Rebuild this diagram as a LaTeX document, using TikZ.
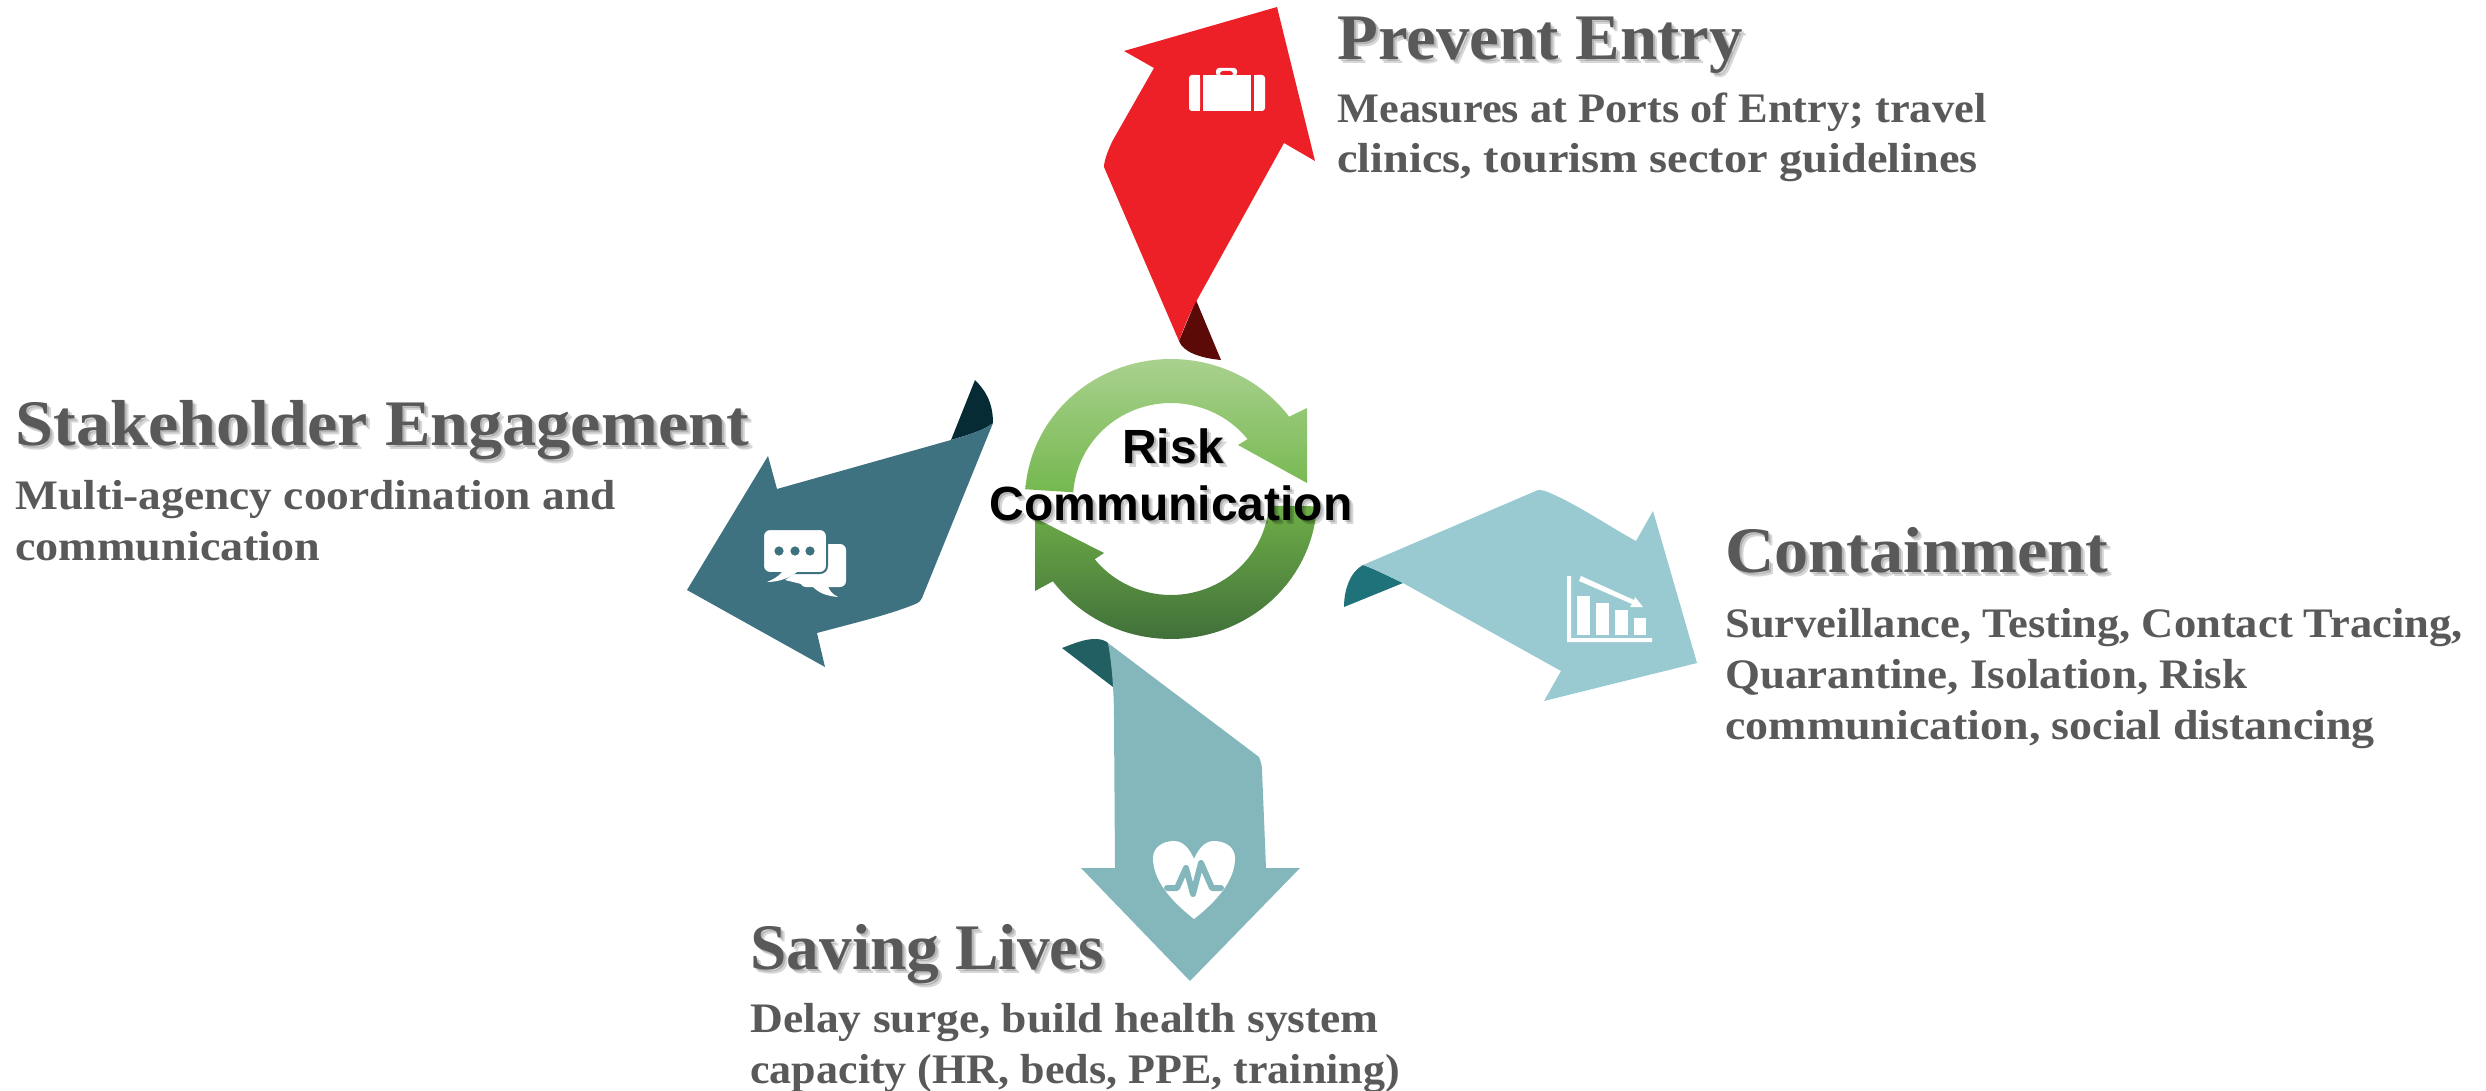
\documentclass[tikz,border=0pt]{standalone}
\usepackage{fontspec}
\setmainfont{Liberation Serif}
\newfontfamily\ttlfont[FakeStretch=1.05]{Liberation Serif}
\newfontfamily\bodyfont[FakeStretch=1.07]{Liberation Serif}
\newfontfamily\riskfont{Liberation Sans}
\definecolor{redA}{HTML}{ED2027}
\definecolor{redB}{HTML}{5C0A08}
\definecolor{tealA}{HTML}{3E7280}
\definecolor{tealB}{HTML}{062B35}
\definecolor{skyA}{HTML}{9ACAD1}
\definecolor{skyB}{HTML}{1F7279}
\definecolor{midA}{HTML}{84B7BC}
\definecolor{midB}{HTML}{215F63}
\definecolor{txt}{HTML}{595959}
\definecolor{grA}{HTML}{A9D18E}
\definecolor{grB}{HTML}{75B84F}
\definecolor{grC}{HTML}{6EAE48}
\definecolor{grD}{HTML}{41703A}
\tikzset{
  ttl/.style={anchor=base west,inner sep=0pt,text=txt,font=\ttlfont\bfseries\fontsize{32.5pt}{36pt}\selectfont},
  bodytxt/.style={anchor=base west,inner sep=0pt,text=txt,align=left,font=\bodyfont\bfseries\fontsize{21pt}{25.4pt}\selectfont},
  risk/.style={anchor=base,inner sep=0pt,text=black,font=\riskfont\bfseries\fontsize{24pt}{28pt}\selectfont},
  shadowlayer/.style={text=black,text opacity=.16},
}
% name, style, x, y, text
\newcommand\shadowed[5]{%
  \node[#2,shadowlayer] (#1s1) at (#3+2,#4+2) {#5};
  \node[#2,shadowlayer] (#1s2) at (#3+4,#4+4) {#5};
  \node[#2] (#1) at (#3,#4) {#5};
}
\newcommand\sx[2]{\scalebox{#1}[1]{#2}}
\begin{document}
\begin{tikzpicture}[x=.5pt,y=-.5pt]
\useasboundingbox (0,0) rectangle (2486,1091);
\fill[white] (0,0) rectangle (2486,1091);

% circular arrows
\path[top color=grA,bottom color=grB]
  plot[domain=176:36,samples=50] ({1171+146*cos(\x)},{499-140*sin(\x)})
  -- (1307,408) -- (1307,483) -- (1238,445) -- (1251,437)
  -- plot[domain=38:176,samples=50] ({1171+98*cos(\x)},{499-96*sin(\x)}) -- cycle;
\path[top color=grC,bottom color=grD]
  plot[domain=-3:-144,samples=50] ({1171+146*cos(\x)},{499-140*sin(\x)})
  -- (1035,591) -- (1035,518) -- (1104,553) -- (1092,561)
  -- plot[domain=-141:-4,samples=50] ({1171+98*cos(\x)},{499-96*sin(\x)}) -- cycle;

% red arrow
\fill[redB] (1196,300) -- (1221,360) .. controls (1200,358) and (1183,352) .. (1179,341) -- cycle;
\fill[redA] (1277,7) -- (1124,51) -- (1154,68) -- (1113,140) .. controls (1109,148) and (1104,160) .. (1104,167)
  -- (1179,341) .. controls (1183,330) and (1190,312) .. (1197,300) -- (1284,143) -- (1315,161) -- cycle;
\begin{scope}[rounded corners=1.5pt]
\fill[white] (1216,76) -- (1216,68) -- (1237,68) -- (1237,76) -- cycle;
\fill[redA] (1220,76) -- (1220,71) -- (1233,71) -- (1233,76) -- cycle;
\fill[white] (1189,75) rectangle (1200,111);
\fill[white] (1254,75) rectangle (1265,111);
\end{scope}
\fill[white] (1194,75) rectangle (1200,111);
\fill[white] (1254,75) rectangle (1260,111);
\fill[white] (1203,75) rectangle (1251,111);

% stakeholder arrow
\fill[tealB] (975,380) .. controls (985,390) and (993,402) .. (993,423) .. controls (985,430) and (968,435) .. (951,440) -- cycle;
\fill[tealA] (687,590) -- (768,456) -- (777,489) -- (951,440) .. controls (968,435) and (985,430) .. (993,423)
  -- (922,598) .. controls (920,603) and (915,604) .. (913,605) .. controls (885,616) and (850,624) .. (817,633)
  -- (825,667) -- cycle;
\fill[white,rounded corners=3pt] (800,544) rectangle (846,587);
\fill[white] (785,580) -- (813,587) .. controls (820,594) and (828,596) .. (838,597) .. controls (832,594) and (829,590) .. (828,586) -- (800,570) -- cycle;
\filldraw[fill=white,rounded corners=3.5pt,draw=tealA,line width=1pt] (763,529) rectangle (827,573);
\fill[white] (782,572) .. controls (778,577) and (772,580) .. (767,582) .. controls (778,582) and (790,578) .. (797,572) -- cycle;
\fill[tealA] (779,551) circle[radius=2.3pt];
\fill[tealA] (795,551) circle[radius=2.3pt];
\fill[tealA] (810,551) circle[radius=2.3pt];

% containment arrow
\fill[skyB] (1363,565) .. controls (1350,572) and (1344,590) .. (1344,607) -- (1403,583) .. controls (1390,577) and (1375,569) .. (1363,565) -- cycle;
\fill[skyA] (1363,565) -- (1538,490) .. controls (1542,490) and (1546,491) .. (1550,493) .. controls (1580,506) and (1610,527) .. (1636,541)
  -- (1653,511) -- (1697,663) -- (1544,701) -- (1561,671) -- (1403,583) .. controls (1390,577) and (1375,569) .. (1363,565) -- cycle;
\fill[white] (1567,576) -- (1571,576) -- (1571,638) -- (1652,638) -- (1652,642) -- (1567,642) -- cycle;
\fill[white] (1577,596) rectangle (1590,635);
\fill[white] (1596,603) rectangle (1609,635);
\fill[white] (1615,610) rectangle (1628,635);
\fill[white] (1634,618) rectangle (1646,635);
\fill[white] (1581,576) -- (1579,581) -- (1632,604) -- (1630,607) -- (1643,607) -- (1635,597) -- (1634,600) -- cycle;

% saving lives arrow
\fill[midB] (1062,648) .. controls (1075,643) and (1085,639) .. (1095,639) .. controls (1100,639) and (1105,640) .. (1108,643)
  .. controls (1112,655) and (1113,675) .. (1113,687) -- cycle;
\fill[midA] (1108,643) -- (1259,757) .. controls (1261,762) and (1262,766) .. (1262,770) -- (1266,868) -- (1300,868) -- (1190,981) -- (1081,868) -- (1115,868)
  -- (1114,720) .. controls (1114,700) and (1113,670) .. (1108,643) -- cycle;
\fill[white] (1194,919) .. controls (1170,900) and (1153,880) .. (1153,858) .. controls (1153,848) and (1162,841) .. (1174,841)
  .. controls (1184,841) and (1190,850) .. (1194,859) .. controls (1198,850) and (1204,841) .. (1214,841)
  .. controls (1226,841) and (1235,848) .. (1235,858) .. controls (1235,880) and (1218,900) .. (1194,919) -- cycle;
\draw[midA,line width=3pt,line cap=round,line join=round] (1167,888) -- (1177,888) -- (1186,868) -- (1193,894) -- (1201,863) -- (1212,888) -- (1221,888);

% labels
\shadowed{riskA}{risk}{1173}{463}{Risk}
\shadowed{riskB}{risk}{1171}{520}{Communication}

\shadowed{t1}{ttl}{1337}{60}{\sx{.98}{Prevent Entry}}
\node[bodytxt] (b1) at (1337,173) {\sx{.988}{Measures at Ports of Entry; travel}\\\sx{1.03}{clinics, tourism sector guidelines}};

\shadowed{t2}{ttl}{15}{445}{Stakeholder Engagement}
\node[bodytxt] (b2) at (15,560) {\sx{1.01}{Multi-agency coordination and}\\\sx{1.027}{communication}};

\shadowed{t3}{ttl}{1725}{572}{Containment}
\node[bodytxt] (b3) at (1725,739) {\sx{.991}{Surveillance, Testing, Contact Tracing,}\\Quarantine, Isolation, Risk\\\sx{1.022}{communication, social distancing}};

\shadowed{t4}{ttl}{750}{969}{\sx{.957}{Saving Lives}}
\node[bodytxt] (b4) at (750,1083) {\sx{1.013}{Delay surge, build health system}\\\sx{.98}{capacity (HR, beds, PPE, training)}};
\end{tikzpicture}
\end{document}
